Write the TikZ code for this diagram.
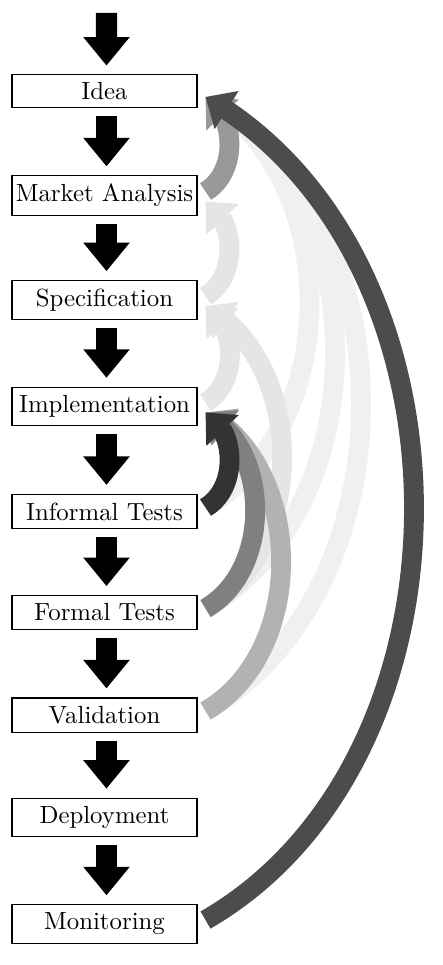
\documentclass[tikz,border=0pt]{standalone}
\usetikzlibrary{arrows.meta,bending}
\begin{document}
\begin{tikzpicture}[x=0.4032pt,y=-0.4032pt,
  stage/.style={draw, line width=0.45pt, fill=white, minimum width=74.6pt, inner xsep=1pt, inner ysep=3.3pt},
  downarrow/.style={-{Triangle[length=11.5pt,width=18pt]}, line width=8.5pt, black},
  fb/.style={-{Triangle[length=10pt,width=17.5pt]}, line width=8pt, bend right=60},
]
\useasboundingbox (0,0) rectangle (442,965);
\node[stage] (idea) at (104.5,91) {Idea};
\node[stage] (market) at (104.5,195.5) {Market Analysis};
\node[stage] (spec) at (104.5,300) {Specification};
\node[stage] (impl) at (104.5,406.5) {Implementation};
\node[stage] (inf) at (104.5,511.5) {Informal Tests};
\node[stage] (formal) at (104.5,612.5) {Formal Tests};
\node[stage] (valid) at (104.5,715) {Validation};
\node[stage] (deploy) at (104.5,817.5) {Deployment};
\node[stage] (monit) at (104.5,924) {Monitoring};
\coordinate (top) at (106.5,13);
% down arrows
\draw[downarrow] (top) -- ([xshift=0.8pt,yshift=3.2pt]idea.north);
\foreach \a/\b in {idea/market,market/spec,spec/impl,impl/inf,inf/formal,formal/valid,valid/deploy,deploy/monit}{
  \draw[downarrow] ([xshift=0.8pt,yshift=-3.2pt]\a.south) -- ([xshift=0.8pt,yshift=3.6pt]\b.north);
}
% feedback arrows, lightest first
\foreach \s/\t/\c in {inf/idea/6,formal/idea/6,valid/idea/6,spec/market/10,impl/spec/10,formal/spec/10,valid/impl/30,market/idea/40,formal/impl/50,monit/idea/70,inf/impl/80}{
  \draw[fb, black!\c] ([xshift=3.2pt,yshift=1.6pt]\s.east) to ([xshift=3.2pt,yshift=-2.4pt]\t.east);
}
\end{tikzpicture}
\end{document}
